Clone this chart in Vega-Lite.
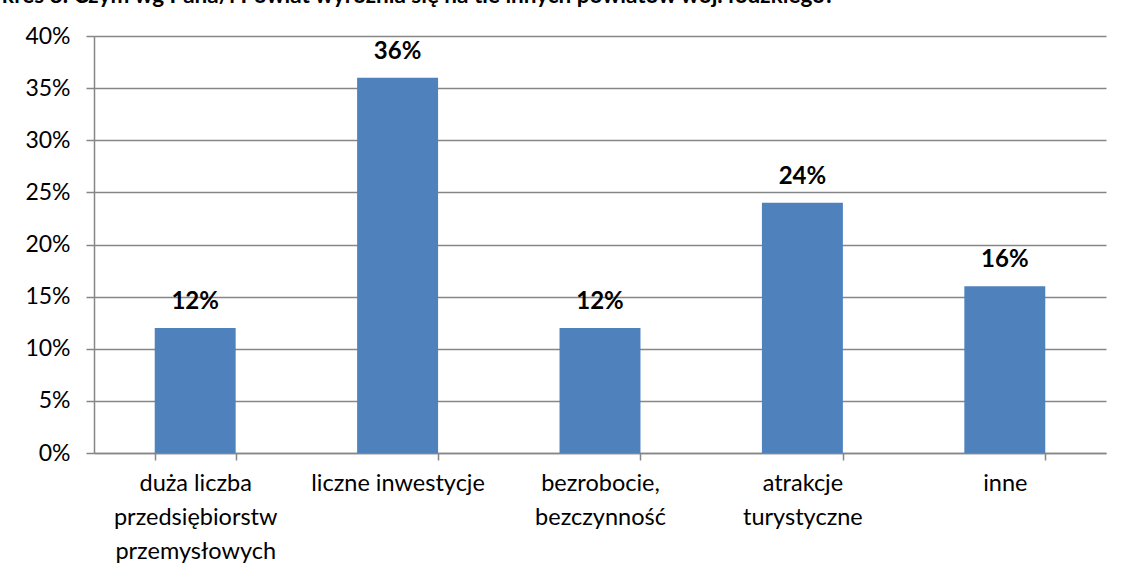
{
  "$schema": "https://vega.github.io/schema/vega-lite/v6.json",
  "autosize": "none",
  "width": 1012,
  "height": 417,
  "padding": {"left": 94, "top": 36, "right": 20, "bottom": 123},
  "background": "white",
  "title": {
    "text": "Wykres 8. Czym wg Pana/i Powiat wyróżnia się na tle innych powiatów woj. łódzkiego?",
    "anchor": "start",
    "frame": "group",
    "orient": "top",
    "font": "Lato",
    "fontSize": 22.5,
    "fontWeight": "bold",
    "color": "black",
    "baseline": "alphabetic",
    "offset": 0,
    "dx": -127,
    "dy": 0
  },
  "data": {
    "values": [
      {"kat": "duża liczba|przedsiębiorstw|przemysłowych", "v": 0.12},
      {"kat": "liczne inwestycje", "v": 0.36},
      {"kat": "bezrobocie,|bezczynność", "v": 0.12},
      {"kat": "atrakcje|turystyczne", "v": 0.24},
      {"kat": "inne", "v": 0.16}
    ]
  },
  "config": {
    "view": {"stroke": null},
    "font": "Lato"
  },
  "encoding": {
    "x": {
      "field": "kat",
      "type": "nominal",
      "sort": null,
      "scale": {"paddingInner": 0.6, "paddingOuter": 0.3},
      "axis": {
        "title": null,
        "labelAngle": 0,
        "labelExpr": "split(datum.label, '|')",
        "labelFontSize": 23.5,
        "labelColor": "black",
        "labelFont": "Lato",
        "labelLineHeight": 34,
        "labelPadding": 11,
        "tickBand": "extent",
        "tickSize": 7,
        "tickColor": "#868686",
        "domainColor": "#868686",
        "domainWidth": 1.5,
        "tickWidth": 1.5,
        "grid": false
      }
    },
    "y": {
      "field": "v",
      "type": "quantitative",
      "scale": {"domain": [0, 0.4]},
      "axis": {
        "title": null,
        "format": ".0%",
        "values": [0, 0.05, 0.1, 0.15, 0.2, 0.25, 0.3, 0.35, 0.4],
        "labelFontSize": 23,
        "labelColor": "black",
        "labelFont": "Lato",
        "labelPadding": 16,
        "tickSize": 8,
        "tickColor": "#868686",
        "tickWidth": 1.5,
        "domainColor": "#868686",
        "domainWidth": 1.5,
        "gridColor": "#868686",
        "gridWidth": 1.3
      }
    }
  },
  "layer": [
    {"mark": {"type": "bar", "color": "#4F81BD"}},
    {
      "mark": {"type": "text", "baseline": "alphabetic", "dy": -19, "fontSize": 24, "fontWeight": "bold", "font": "Lato", "color": "black"},
      "encoding": {"text": {"field": "v", "type": "quantitative", "format": ".0%"}}
    }
  ]
}
